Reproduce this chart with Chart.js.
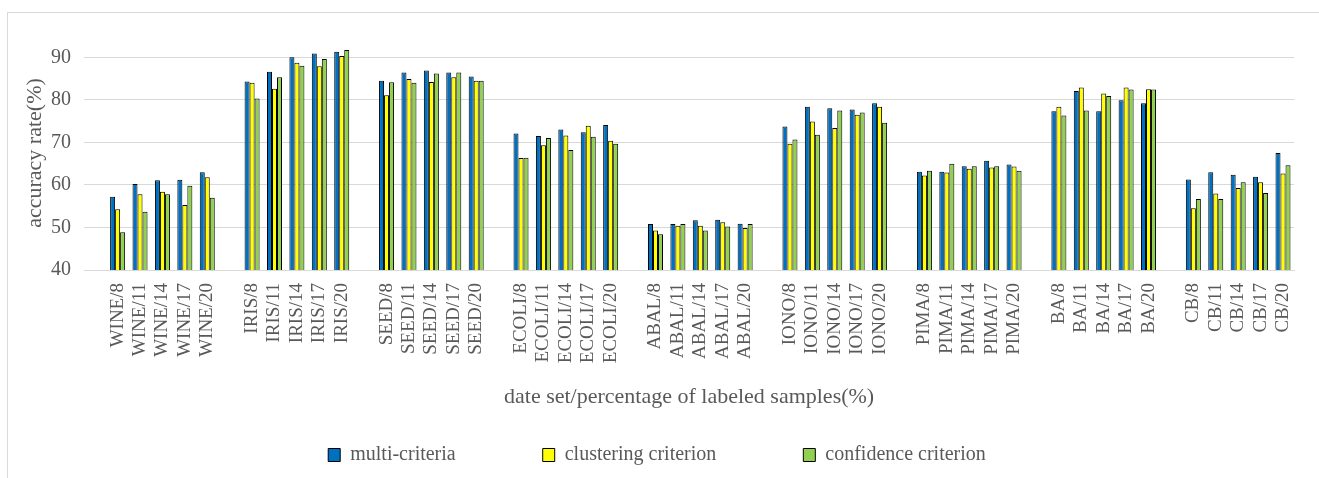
<!DOCTYPE html>
<html>
<head>
<meta charset="utf-8">
<script src="https://cdn.jsdelivr.net/npm/chart.js@4.4.1/dist/chart.umd.min.js"></script>
<style>
  html, body { margin: 0; padding: 0; background: #ffffff; overflow: hidden; }
  #wrap { position: relative; width: 1319px; height: 478px; }
  #frame { position: absolute; left: 7px; top: 12px; width: 1400px; height: 600px; border: 1px solid #d9d9d9; box-sizing: border-box; }
  canvas { position: absolute; left: 0; top: 0; }
</style>
</head>
<body>
<div id="wrap">
  <div id="frame"></div>
  <canvas id="c" width="1319" height="478"></canvas>
</div>
<script>
// ---- data ----
const groups = ["WINE", "IRIS", "SEED", "ECOLI", "ABAL", "IONO", "PIMA", "BA", "CB"];
const percents = [8, 11, 14, 17, 20];
const seriesNames = ["multi-criteria", "clustering criterion", "confidence criterion"];

const multiCriteria = [
  57.2, 60.2, 61.1, 61.2, 63.0,
  84.3, 86.6, 90.0, 90.9, 91.3,
  84.5, 86.4, 86.9, 86.4, 85.5,
  72.1, 71.5, 73.0, 72.4, 74.1,
  50.8, 50.8, 51.7, 51.8, 50.9,
  73.7, 78.4, 78.0, 77.7, 79.2,
  63.1, 63.1, 64.4, 65.7, 64.8,
  77.3, 82.1, 77.3, 79.9, 79.2,
  61.3, 63.0, 62.4, 61.9, 67.5
];
const clusteringCriterion = [
  54.3, 57.8, 58.4, 55.3, 61.8,
  84.0, 82.6, 88.7, 87.9, 90.3,
  81.1, 84.9, 84.2, 85.3, 84.5,
  66.3, 69.3, 71.6, 73.9, 70.4,
  49.3, 50.4, 50.4, 51.2, 49.9,
  69.7, 74.9, 73.4, 76.5, 78.4,
  62.2, 62.9, 63.8, 64.1, 64.3,
  78.4, 82.9, 81.5, 82.9, 82.5,
  54.5, 58.0, 59.3, 60.6, 62.7
];
const confidenceCriterion = [
  48.9, 53.7, 57.8, 59.8, 57.0,
  80.3, 85.3, 88.0, 89.6, 91.7,
  84.1, 84.0, 86.2, 86.4, 84.5,
  66.4, 71.0, 68.2, 71.3, 69.7,
  48.4, 50.8, 49.3, 50.2, 50.8,
  70.7, 71.8, 77.5, 77.0, 74.6,
  63.3, 65.0, 64.4, 64.4, 63.3,
  76.3, 77.5, 80.9, 82.4, 82.4,
  56.7, 56.7, 60.6, 58.1, 64.6
];
const yTicks = [40, 50, 60, 70, 80, 90];

// ---- build categories with an empty slot before each group ----
const labels = [];
function spread(values) {
  const out = [];
  groups.forEach((g, gi) => {
    out.push(null);
    percents.forEach((p, pi) => out.push(values[gi * percents.length + pi]));
  });
  return out;
}
groups.forEach(g => {
  labels.push("");
  percents.forEach(p => labels.push(g + "/" + p));
});

const colors = ["#0070C0", "#FFFF00", "#92D050"];
const seriesValues = [multiCriteria, clusteringCriterion, confidenceCriterion];

const textGray = "#595959";
const serif = "'Liberation Serif', 'Times New Roman', serif";

// The legend's wide item spacing also makes its box tall; let the x axis
// (labels + title) extend down over the empty upper part of the legend box.
const xAxisExtend = {
  id: 'xAxisExtend',
  afterLayout(chart) {
    const x = chart.scales.x;
    const lg = chart.legend;
    if (!x || !lg) return;
    x.bottom = lg.top + lg.options.labels.padding - 8;
    x.height = x.bottom - x.top;
  }
};

new Chart(document.getElementById('c'), {
  type: 'bar',
  data: {
    labels: labels,
    datasets: seriesValues.map((vals, i) => ({
      label: seriesNames[i],
      data: spread(vals),
      backgroundColor: colors[i],
      borderColor: "#000000",
      borderWidth: 1,
      categoryPercentage: 0.67,
      barPercentage: 1.0
    }))
  },
  options: {
    responsive: false,
    animation: false,
    devicePixelRatio: 1,
    layout: { padding: { top: 36, right: 22, bottom: 3, left: 17 } },
    scales: {
      x: {
        grid: { display: false, drawTicks: false },
        border: { display: true, color: "#d9d9d9", width: 1 },
        ticks: {
          autoSkip: false, maxRotation: 90, minRotation: 90, padding: 13,
          color: textGray, font: { family: serif, size: 19 }
        },
        title: {
          display: true, text: "date set/percentage of labeled samples(%)",
          color: textGray, font: { family: serif, size: 22 },
          padding: { top: 0, bottom: 27 }
        },
        afterFit(s) { s.height = 88; }
      },
      y: {
        min: 40, max: 95,
        grid: { color: "#d9d9d9", lineWidth: 1, drawTicks: false },
        border: { display: false },
        afterBuildTicks(s) { s.ticks = yTicks.map(v => ({ value: v })); },
        ticks: { padding: 13, color: textGray, font: { family: serif, size: 20 } },
        title: {
          display: true, text: "accuracy rate(%)",
          color: textGray, font: { family: serif, size: 22 },
          padding: { top: 5, bottom: 0 }
        },
        afterFit(s) { s.width = 67; }
      }
    },
    plugins: {
      legend: {
        position: 'bottom',
        labels: {
          boxWidth: 12, boxHeight: 13, padding: 87,
          color: textGray, font: { family: serif, size: 20 }
        }
      },
      tooltip: { enabled: false }
    }
  },
  plugins: [xAxisExtend]
});
</script>
</body>
</html>
